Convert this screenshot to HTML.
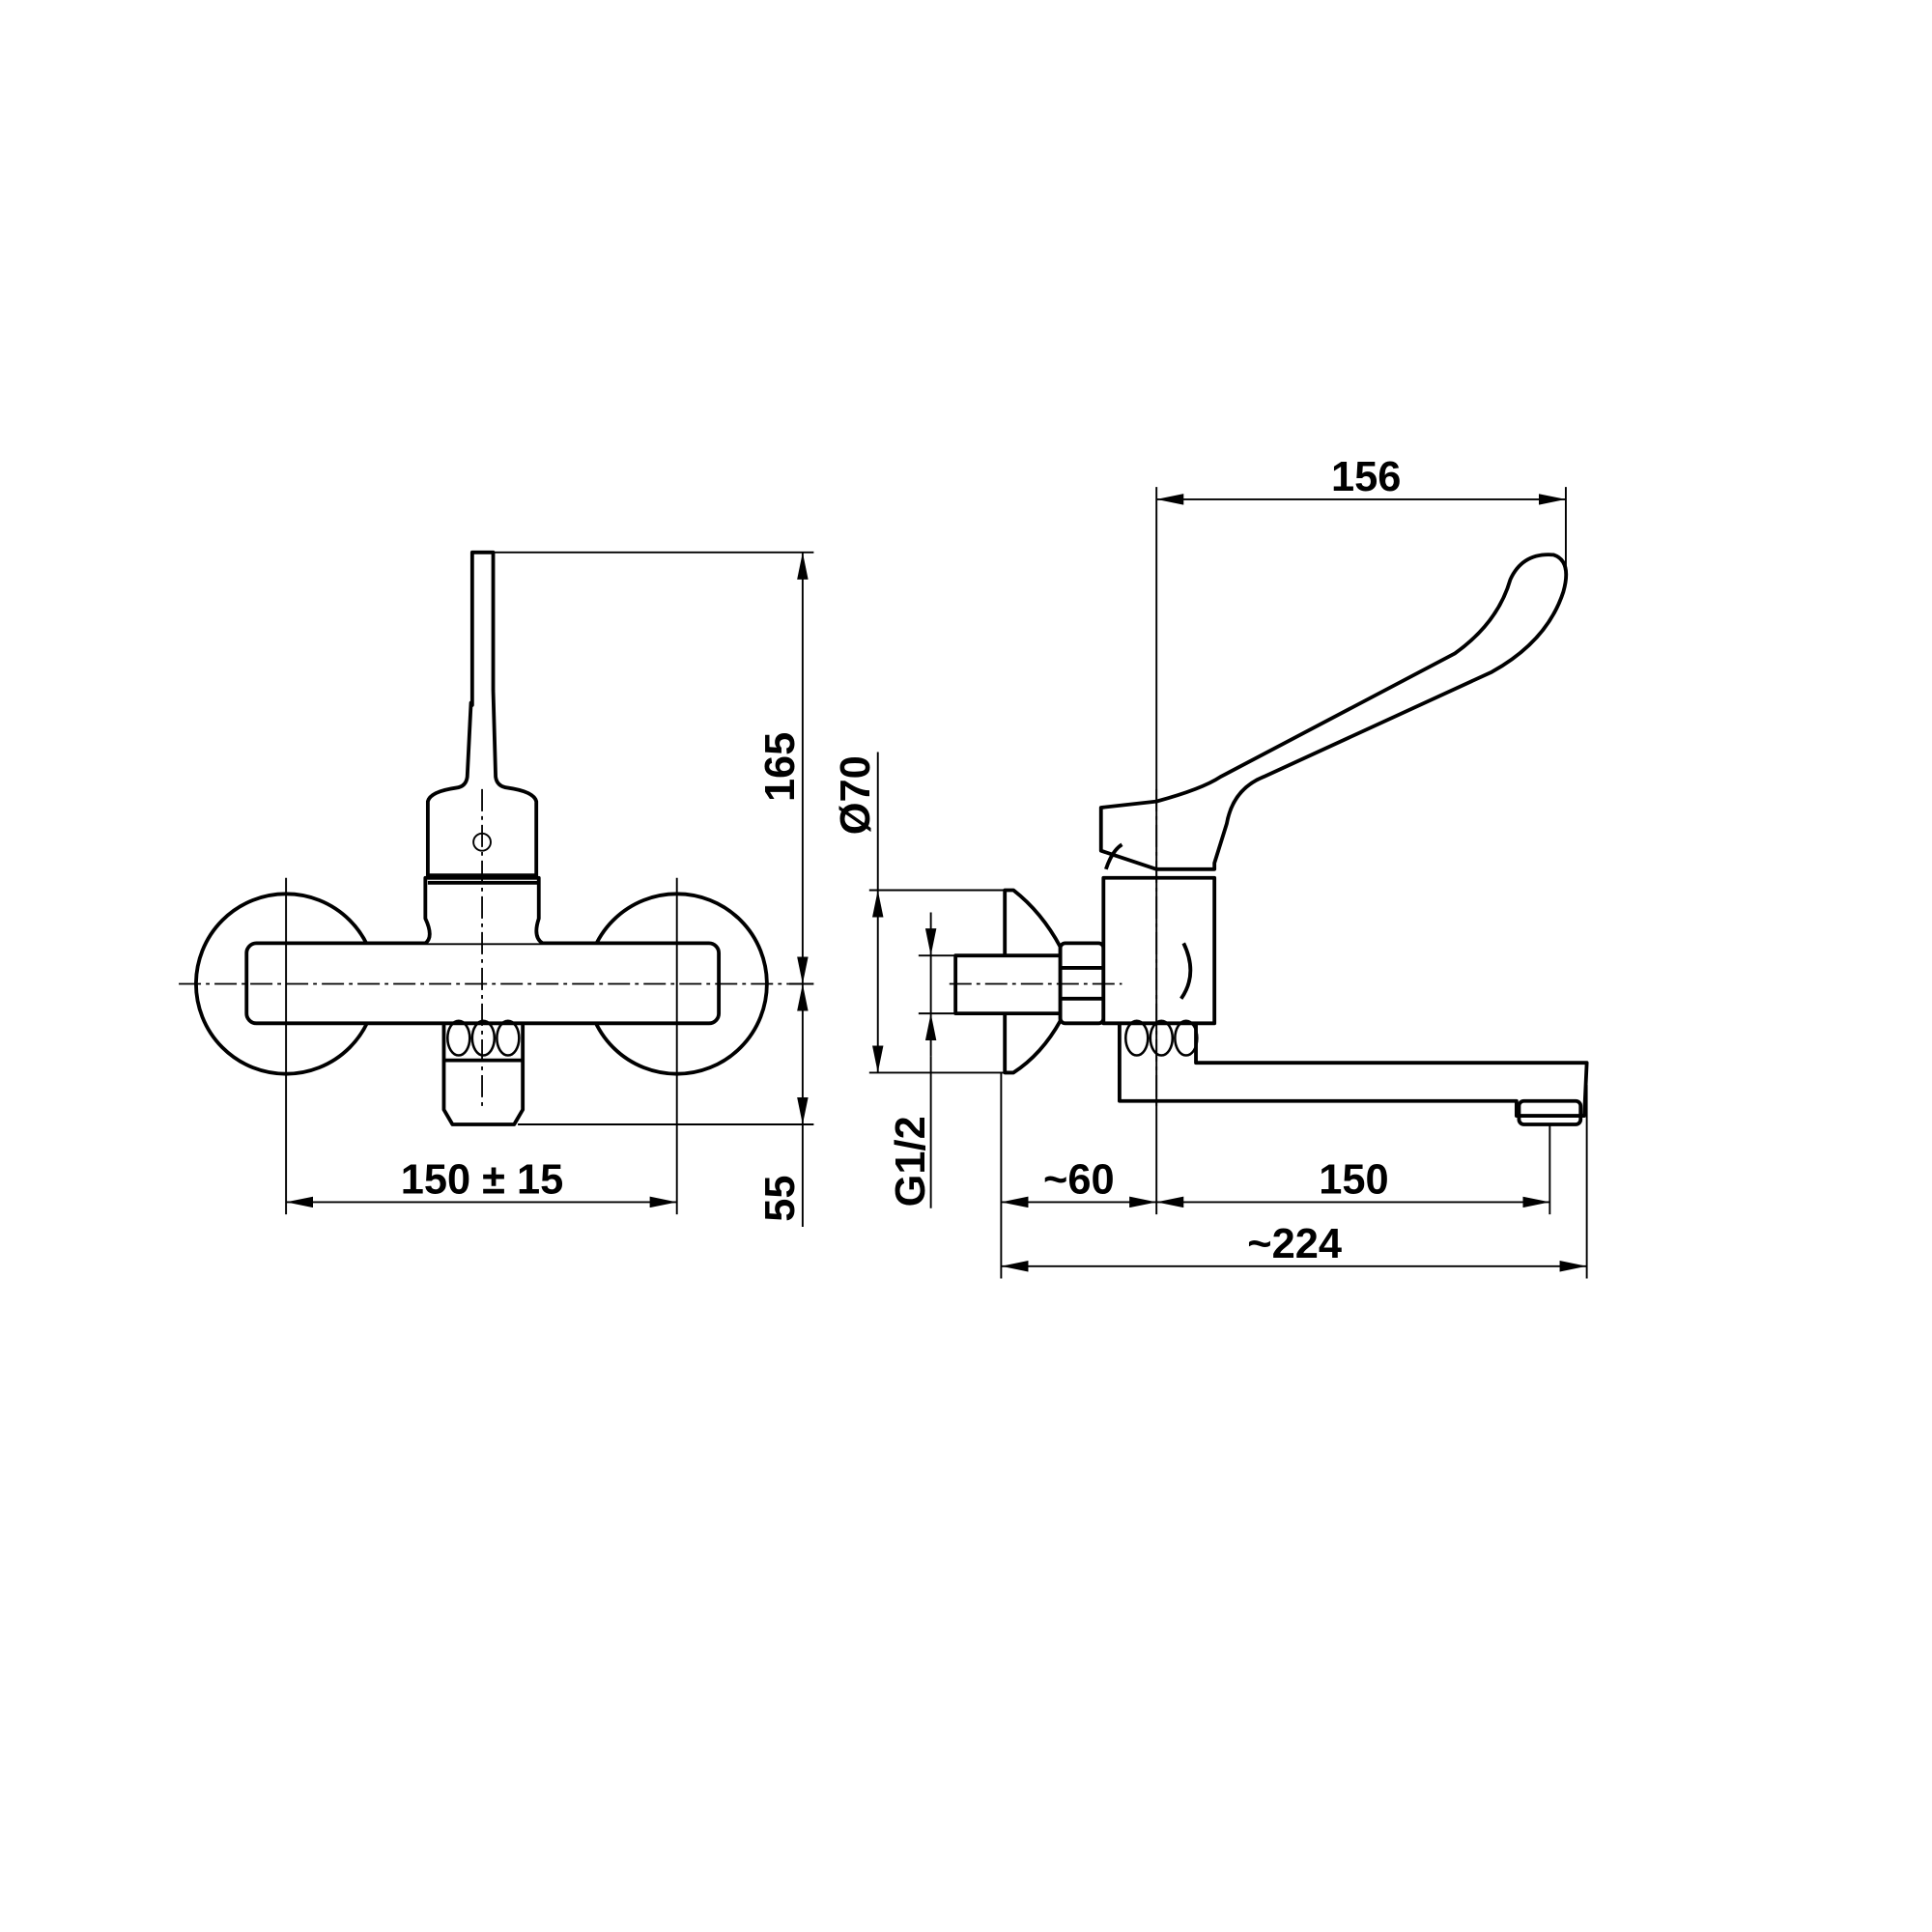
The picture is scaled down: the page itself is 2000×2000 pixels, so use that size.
<!DOCTYPE html>
<html><head><meta charset="utf-8"><style>html,body{margin:0;padding:0;background:#fff}svg{display:block}</style></head>
<body>
<svg width="2000" height="2000" viewBox="0 0 1567 1567" xmlns="http://www.w3.org/2000/svg">
<defs>
<marker id="a" viewBox="0 0 22 9" refX="22" refY="4.5" markerWidth="22" markerHeight="9" markerUnits="userSpaceOnUse" orient="auto-start-reverse"><path d="M0,0 L22,4.5 L0,9 Z" fill="#000"/></marker>
</defs>
<g fill="none" stroke="#000" stroke-width="3" stroke-linejoin="round">
<!-- LEFT VIEW -->
<circle cx="232" cy="798" r="73"/>
<circle cx="549" cy="798" r="73"/>
<rect x="200" y="765" width="383" height="65" rx="8" fill="#fff"/>
<path d="M345,765 Q352,760 345,745 L345,712 L437,712 L437,745 Q432,760 440,765" fill="#fff"/>
<line x1="347" y1="712" x2="436" y2="712"/><line x1="347" y1="716" x2="436" y2="716"/>
<path d="M347,710 L347,650 Q349,642 370,639 Q378,638 379,630 L382,570 L383,572 L383,448 L400,448 L400,560 L402,630 Q403,638 412,639 Q433,642 435,650 L435,710 Z" fill="#fff"/>
<circle cx="391" cy="683" r="7" stroke-width="1.5"/>
<path d="M360,830 L360,900 L367,912 L417,912 L424,900 L424,830"/>
<line x1="360" y1="860" x2="424" y2="860"/>
<ellipse cx="372" cy="842" rx="9" ry="14" stroke-width="2"/>
<ellipse cx="392" cy="842" rx="9" ry="14" stroke-width="2"/>
<ellipse cx="412" cy="842" rx="9" ry="14" stroke-width="2"/>
<!-- RIGHT VIEW -->
<path d="M815,722 L822,722 Q845,740 860,768 L860,828 Q845,855 822,870 L815,870 Z" fill="#fff"/>
<rect x="775" y="775" width="85" height="47" fill="#fff"/>
<rect x="860" y="765" width="35" height="65" rx="4" fill="#fff"/>
<line x1="860" y1="785" x2="895" y2="785"/><line x1="860" y1="810" x2="895" y2="810"/>
<path d="M895,712 L985,712 L985,830 L895,830 Z" fill="#fff"/>
<path d="M960,765 Q972,790 958,810" />
<path d="M908,830 L908,893 L1230,893 L1230,905 L1285,905 L1287,862 L970,862 L970,830"/>
<rect x="1232" y="893" width="50" height="19" rx="4"/>
<ellipse cx="922" cy="842" rx="9" ry="14" stroke-width="2"/>
<ellipse cx="942" cy="842" rx="9" ry="14" stroke-width="2"/>
<ellipse cx="962" cy="842" rx="9" ry="14" stroke-width="2"/>
<path d="M893,655 L938,650 Q975,640 990,630 L1180,530 Q1215,505 1225,470 Q1235,448 1260,450 Q1275,455 1268,480 Q1255,520 1210,545 L1025,630 Q1000,640 995,668 L985,700 L985,705 L938,705 L893,690 Z" fill="#fff"/>
<path d="M897,705 Q902,690 910,685"/>
</g>
<g stroke="#000" stroke-width="1.4" stroke-dasharray="18,4,3,4" fill="none">
<line x1="145" y1="798" x2="640" y2="798"/>
<line x1="391" y1="640" x2="391" y2="900"/>
<line x1="938" y1="640" x2="938" y2="900"/>
<line x1="770" y1="798" x2="910" y2="798"/>
</g>
<g stroke="#000" stroke-width="1.5" fill="none">
<line x1="400" y1="448" x2="660" y2="448"/>
<line x1="420" y1="912" x2="660" y2="912"/>
<line x1="640" y1="798" x2="660" y2="798"/>
<line x1="651" y1="448" x2="651" y2="798" marker-start="url(#a)" marker-end="url(#a)"/>
<line x1="651" y1="798" x2="651" y2="912" marker-start="url(#a)" marker-end="url(#a)"/>
<line x1="651" y1="912" x2="651" y2="995"/>
<line x1="232" y1="712" x2="232" y2="985"/>
<line x1="549" y1="712" x2="549" y2="985"/>
<line x1="232" y1="975" x2="549" y2="975" marker-start="url(#a)" marker-end="url(#a)"/>
<line x1="705" y1="722" x2="815" y2="722"/>
<line x1="705" y1="870" x2="815" y2="870"/>
<line x1="712" y1="722" x2="712" y2="870" marker-start="url(#a)" marker-end="url(#a)"/>
<line x1="712" y1="722" x2="712" y2="610"/>
<line x1="745" y1="775" x2="775" y2="775"/>
<line x1="745" y1="822" x2="775" y2="822"/>
<line x1="755" y1="740" x2="755" y2="775" marker-end="url(#a)"/>
<line x1="755" y1="857" x2="755" y2="822" marker-end="url(#a)"/>
<line x1="755" y1="775" x2="755" y2="822"/>
<line x1="755" y1="857" x2="755" y2="980"/>
<line x1="938" y1="395" x2="938" y2="985"/>
<line x1="1270" y1="395" x2="1270" y2="460"/>
<line x1="938" y1="405" x2="1270" y2="405" marker-start="url(#a)" marker-end="url(#a)"/>
<line x1="812" y1="870" x2="812" y2="1037"/>
<line x1="1257" y1="912" x2="1257" y2="985"/>
<line x1="1287" y1="880" x2="1287" y2="1037"/>
<line x1="812" y1="975" x2="938" y2="975" marker-start="url(#a)" marker-end="url(#a)"/>
<line x1="938" y1="975" x2="1257" y2="975" marker-start="url(#a)" marker-end="url(#a)"/>
<line x1="812" y1="1027" x2="1287" y2="1027" marker-start="url(#a)" marker-end="url(#a)"/>
</g>
<g font-family="Liberation Sans, sans-serif" font-size="34" font-weight="bold" fill="#000" text-anchor="middle">
<text x="391" y="968">150 ± 15</text>
<text x="1108" y="398">156</text>
<text x="875" y="968">~60</text>
<text x="1098" y="968">150</text>
<text x="1050" y="1020">~224</text>
<text transform="translate(644,622) rotate(-90)">165</text>
<text transform="translate(644,972) rotate(-90)">55</text>
<text transform="translate(705,645) rotate(-90)">Ø70</text>
<text transform="translate(750,942) rotate(-90)">G1/2</text>
</g>
</svg>
</body></html>
